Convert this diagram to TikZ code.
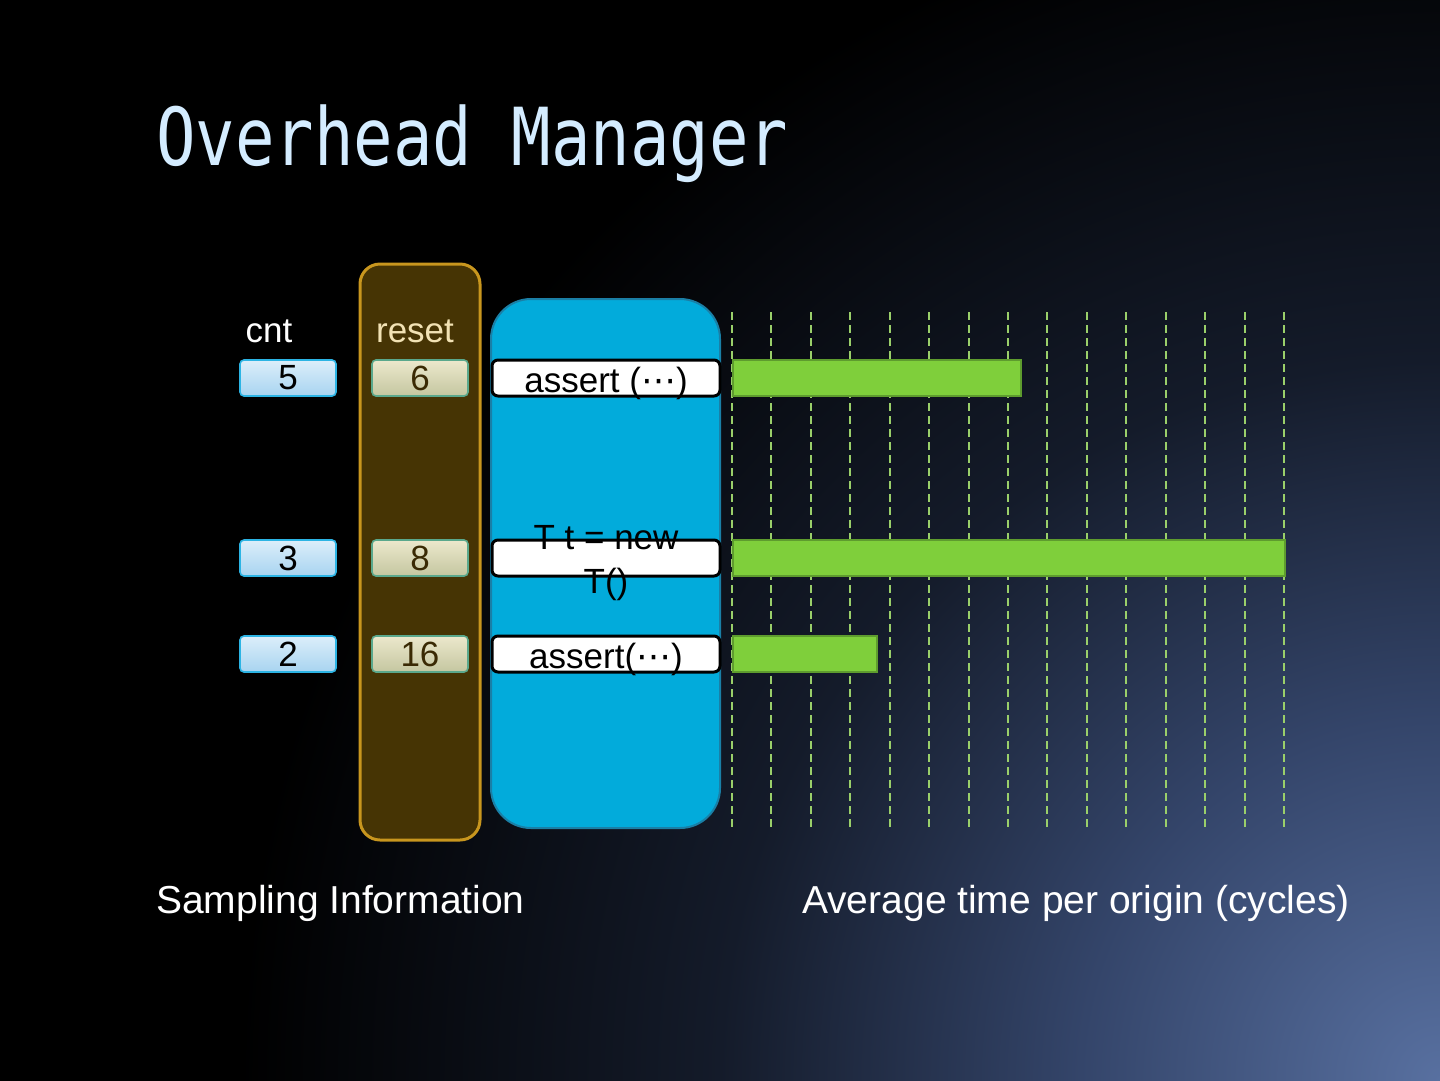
\documentclass[tikz,border=0pt]{standalone}
\usepackage{fontspec}
\setmainfont{Liberation Sans}
\newfontfamily\titlefont{DejaVu Sans Mono}
\newfontfamily\symfont{DejaVu Sans}
\definecolor{bgA}{HTML}{5870A0}
\definecolor{bgB}{HTML}{34456A}
\definecolor{bgC}{HTML}{141B2A}
\definecolor{titleblue}{HTML}{D4ECFF}
\definecolor{cntTop}{HTML}{DCEEFA}
\definecolor{cntBot}{HTML}{A8D4F0}
\definecolor{cntEdge}{HTML}{2CB4E4}
\definecolor{rstTop}{HTML}{ECE8CC}
\definecolor{rstBot}{HTML}{C4C6A0}
\definecolor{rstEdge}{HTML}{5AA88C}
\definecolor{rstText}{HTML}{3A2A04}
\definecolor{resetLabel}{HTML}{F2E2B4}
\definecolor{brownFill}{HTML}{463404}
\definecolor{goldEdge}{HTML}{C8961E}
\definecolor{blueFill}{HTML}{02ABDB}
\definecolor{blueEdge}{HTML}{1A7FA6}
\definecolor{barFill}{HTML}{7FCF3B}
\definecolor{barEdge}{HTML}{5E9C2E}
\definecolor{gridGreen}{HTML}{9ACF6A}
\pgfdeclareradialshading{bgshade}{\pgfpoint{0bp}{0bp}}{color(0bp)=(bgA); color(6bp)=(bgB); color(12bp)=(bgC); color(20bp)=(black); color(50bp)=(black)}
\begin{document}
\begin{tikzpicture}[x=1pt,y=-1pt,
  cntbox/.style={draw=cntEdge, line width=1.6pt, rounded corners=4pt, top color=cntTop, bottom color=cntBot,
    minimum width=96pt, minimum height=36pt, inner sep=0pt, font=\fontsize{35}{35}\selectfont, text=black},
  rstbox/.style={draw=rstEdge, line width=1.6pt, rounded corners=4pt, top color=rstTop, bottom color=rstBot,
    minimum width=96pt, minimum height=36pt, inner sep=0pt, font=\fontsize{35}{35}\selectfont, text=rstText},
  codebox/.style={draw=black, fill=white, line width=3pt, rounded corners=6pt,
    minimum width=228pt, minimum height=36pt, inner sep=0pt},
  codetext/.style={font=\fontsize{35}{44}\selectfont, text=black, align=center, inner sep=0pt},
  bar/.style={draw=barEdge, fill=barFill, line width=1.5pt},
  gridline/.style={draw=gridGreen, line width=2pt, dash pattern=on 8pt off 5pt},
  heading/.style={font=\fontsize{35}{35}\selectfont, inner sep=0pt},
  caption/.style={font=\fontsize{39}{39}\selectfont, text=white, inner sep=0pt}
]
% background
\useasboundingbox (0,0) rectangle (1440,1080);
\fill[black] (0,0) rectangle (1440,1080);
\begin{scope}
  \clip (0,0) rectangle (1440,1080);
  \shade[shading=bgshade] (1440,1080) circle (1500);
\end{scope}

% title
\node[anchor=base west, inner sep=0pt, text=titleblue, xscale=0.82,
  font=\titlefont\fontsize{80}{80}\selectfont] (title) at (156,165) {Overhead Manager};

% column panels
\node[draw=goldEdge, fill=brownFill, line width=3pt, rounded corners=20pt,
  minimum width=120pt, minimum height=576pt, inner sep=0pt] (resetpanel) at (420,552) {};
\node[draw=blueEdge, fill=blueFill, line width=2pt, rounded corners=40pt,
  minimum width=229pt, minimum height=529pt, inner sep=0pt] (codepanel) at (605.5,563.5) {};

% headings
\node[heading, text=white, anchor=base] (cnthead) at (269,342) {cnt};
\node[heading, text=resetLabel, anchor=base] (resethead) at (415,342) {reset};

% grid lines
\foreach \i/\x in {1/732,2/771.4,3/810.9,4/850.3,5/889.7,6/929.1,7/968.6,8/1008,9/1047.4,10/1086.9,11/1126.3,12/1165.7,13/1205.1,14/1244.6,15/1284}{
  \coordinate (gt\i) at (\x,312);
  \coordinate (gb\i) at (\x,830);
  \draw[gridline] (gt\i) -- (gb\i);
}

% rows
\node[cntbox] (c1) at (288,378) {5};
\node[rstbox] (r1) at (420,378) {6};
\node[codebox] (k1) at (606,378) {};
\node[codetext, anchor=base] (t1) at (606,392) {assert ({\symfont ⋯})};
\node[bar, minimum width=288pt, minimum height=36pt, inner sep=0pt, anchor=west] (b1) at (732,378) {};

\node[cntbox] (c2) at (288,558) {3};
\node[rstbox] (r2) at (420,558) {8};
\node[codebox] (k2) at (606,558) {};
\node[codetext] (t2) at (606,563) {T t = new\\T()};
\node[bar, minimum width=552pt, minimum height=36pt, inner sep=0pt, anchor=west] (b2) at (732,558) {};

\node[cntbox] (c3) at (288,654) {2};
\node[rstbox] (r3) at (420,654) {16};
\node[codebox] (k3) at (606,654) {};
\node[codetext, anchor=base] (t3) at (606,668) {assert({\symfont ⋯})};
\node[bar, minimum width=144pt, minimum height=36pt, inner sep=0pt, anchor=west] (b3) at (732,654) {};

% captions
\node[caption, anchor=base west] (leftcap) at (156,913) {Sampling Information};
\node[caption, anchor=base east] (rightcap) at (1350,913) {Average time per origin (cycles)};
\end{tikzpicture}
\end{document}
